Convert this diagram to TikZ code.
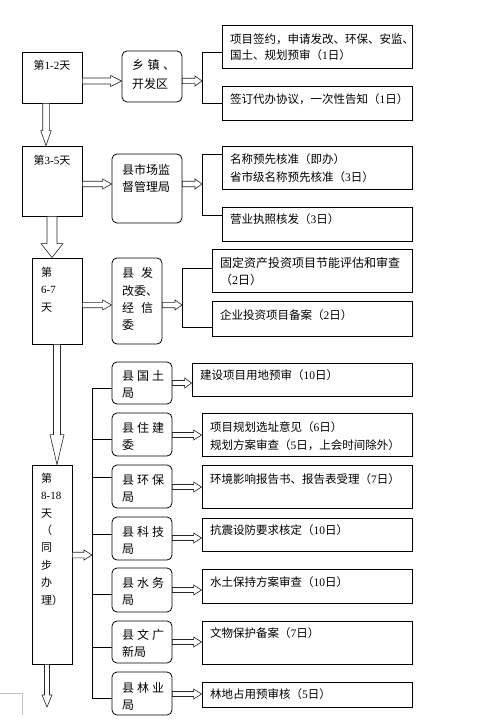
\documentclass[tikz,border=0pt]{standalone}
\usepackage{fontspec}
\setmainfont{Liberation Serif}
\newfontfamily\cjk{Noto Sans CJK SC}
\usetikzlibrary{fit,calc}
\newcommand\dg[1]{{\rmfamily #1}}
% hollow horizontal arrow: from, to, y(px down), shaft half, head half, head length
\newcommand\harrow[6]{\draw[harr] let \p1=(#1), \p2=(#2) in
 (\x1,{-#3pt+#4pt}) -- ({\x2-#6pt},{-#3pt+#4pt}) -- ({\x2-#6pt},{-#3pt+#5pt}) -- (\x2,{-#3pt})
 -- ({\x2-#6pt},{-#3pt-#5pt}) -- ({\x2-#6pt},{-#3pt-#4pt}) -- (\x1,{-#3pt-#4pt}) -- cycle;}
% hollow vertical arrow: from, to, x, shaft half, head half, head length
\newcommand\varrow[6]{\draw[harr] let \p1=(#1), \p2=(#2) in
 ({#3pt-#4pt},\y1) -- ({#3pt-#4pt},{\y2+#6pt}) -- ({#3pt-#5pt},{\y2+#6pt}) -- (#3pt,\y2)
 -- ({#3pt+#5pt},{\y2+#6pt}) -- ({#3pt+#4pt},{\y2+#6pt}) -- ({#3pt+#4pt},\y1) -- cycle;}
\begin{document}
\begin{tikzpicture}[x=1pt,y=-1pt,
  box/.style={draw, line width=0.8pt, inner sep=0pt},
  rbox/.style={box, rounded corners=5pt},
  harr/.style={draw=black!85, fill=white, line width=0.6pt},
  conn/.style={line width=0.8pt},
  lbl/.style={inner sep=0pt, anchor=north west, align=left},
  fday/.style={font=\cjk\fontsize{11}{17.5}\selectfont},
  fag/.style={font=\cjk\fontsize{12}{17}\selectfont},
  fr/.style={font=\cjk\fontsize{11.5}{17}\selectfont}]
\fill[white] (0,0) rectangle (479,722);
\useasboundingbox (0,0) rectangle (479,722);

% ---------- section 1 ----------
\node[box, fit={(22,52)(82,103)}] (d1) {};
\node[rbox, fit={(122,51)(182,102)}] (a1) {};
\node[box, fit={(222,25)(412,68)}] (b1a) {};
\node[box, fit={(222,86)(412,120)}] (b1b) {};
\node[fday, inner sep=0pt] (ld1) at (52,65) {第\dg{1-2}天};
\node[lbl, font=\cjk\fontsize{12}{19}\selectfont] (la1) at (132,59.4) {\makebox[43pt][s]{乡\hfil 镇\hfil 、}\\开发区};
\node[lbl, font=\cjk\fontsize{11.5}{16}\selectfont] (lb1a) at (230,33.6) {项目签约，申请发改、环保、安监、\\国土、规划预审（\dg{1}日）};
\node[lbl, fr] (lb1b) at (230,93.6) {签订代办协议，一次性告知（\dg{1}日）};
\harrow{d1.east}{a1.west}{81}{3}{5.5}{11}
\coordinate (k1) at (202,81);
\coordinate (k1t) at (202,52);
\coordinate (k1b) at (202,103);
\harrow{a1.east}{k1}{81}{2.7}{5}{7}
\draw[conn] (k1t -| b1a.west) -- (k1t) -- (k1b) -- (k1b -| b1b.west);

% ---------- section 2 ----------
\node[box, fit={(22,146)(82,216)}] (d2) {};
\node[rbox, fit={(112,154)(182,223)}] (a2) {};
\node[box, fit={(222,146)(412,189)}] (b2a) {};
\node[box, fit={(222,207)(412,241)}] (b2b) {};
\node[fday, inner sep=0pt] (ld2) at (52,160) {第\dg{3-5}天};
\node[lbl, fag] (la2) at (122,164.4) {县市场监\\督管理局};
\node[lbl, font=\cjk\fontsize{11.5}{18}\selectfont] (lb2a) at (230,153.6) {名称预先核准（即办）\\省市级名称预先核准（\dg{3}日）};
\node[lbl, fr] (lb2b) at (230,213.6) {营业执照核发（\dg{3}日）};
\varrow{d1.south}{d2.north}{46}{3.3}{5.3}{15}
\harrow{d2.east}{a2.west}{184}{2.7}{5}{9}
\coordinate (k2) at (202,184);
\coordinate (k2t) at (202,154);
\coordinate (k2b) at (202,215);
\harrow{a2.east}{k2}{184}{2.7}{5}{7}
\draw[conn] (k2t -| b2a.west) -- (k2t) -- (k2b) -- (k2b -| b2b.west);

% ---------- section 3 ----------
\node[box, fit={(32,258)(82,344)}] (d3) {};
\node[rbox, fit={(112,258)(162,344)}] (a3) {};
\node[box, fit={(212,249)(412,292)}] (b3a) {};
\node[box, fit={(212,301)(412,336)}] (b3b) {};
\node[lbl, fday] (ld3) at (41,266.8) {第\\\dg{6-7}\\天};
\node[lbl, font=\cjk\fontsize{12}{17.3}\selectfont] (la3) at (122,267.4) {\makebox[31pt][s]{县\hfil 发}\\改委、\\\makebox[31pt][s]{经\hfil 信}\\委};
\node[lbl, font=\cjk\fontsize{12}{17}\selectfont] (lb3a) at (220,257.4) {固定资产投资项目节能评估和审查\\（\dg{2}日）};
\node[lbl, fr] (lb3b) at (220,309.6) {企业投资项目备案（\dg{2}日）};
\varrow{d2.south}{d3.north}{52}{5}{11}{14}
\harrow{d3.east}{a3.west}{305}{2.7}{5}{9}
\coordinate (k3) at (182,305);
\coordinate (k3t) at (182,268);
\coordinate (k3b) at (182,327);
\harrow{a3.east}{k3}{305}{2.7}{5}{7}
\draw[conn] (k3t -| b3a.west) -- (k3t) -- (k3b) -- (k3b -| b3b.west);

% ---------- section 4 ----------
\node[box, fit={(32,465)(72,664)}] (d4) {};
\node[lbl, font=\cjk\fontsize{11}{17.4}\selectfont] (ld4) at (41,472.8) {第\\\dg{8-18}\\天\\（\\同\\步\\办\\理）};
\varrow{d3.south}{d4.north}{57}{3.5}{7}{30}

\node[rbox, fit={(112,362)(172,404)}] (g1) {};
\node[rbox, fit={(112,413)(172,456)}] (g2) {};
\node[rbox, fit={(112,465)(172,508)}] (g3) {};
\node[rbox, fit={(112,517)(172,560)}] (g4) {};
\node[rbox, fit={(112,568)(172,612)}] (g5) {};
\node[rbox, fit={(112,621)(172,663)}] (g6) {};
\node[rbox, fit={(112,672)(172,715)}] (g7) {};
\node[lbl, fag] (lg1) at (122,370.4) {\makebox[42pt][s]{县\hfil 国\hfil 土}\\局};
\node[lbl, fag] (lg2) at (122,422.4) {\makebox[42pt][s]{县\hfil 住\hfil 建}\\委};
\node[lbl, fag] (lg3) at (122,474.4) {\makebox[42pt][s]{县\hfil 环\hfil 保}\\局};
\node[lbl, fag] (lg4) at (122,526.4) {\makebox[42pt][s]{县\hfil 科\hfil 技}\\局};
\node[lbl, fag] (lg5) at (122,577.4) {\makebox[42pt][s]{县\hfil 水\hfil 务}\\局};
\node[lbl, fag] (lg6) at (122,629.4) {\makebox[42pt][s]{县\hfil 文\hfil 广}\\新局};
\node[lbl, fag] (lg7) at (122,682.4) {\makebox[42pt][s]{县\hfil 林\hfil 业}\\局};

\node[box, fit={(192,363)(412,396)}] (r1) {};
\node[box, fit={(202,413)(412,456)}] (r2) {};
\node[box, fit={(202,465)(412,508)}] (r3) {};
\node[box, fit={(202,518)(412,551)}] (r4) {};
\node[box, fit={(202,569)(412,603)}] (r5) {};
\node[box, fit={(202,621)(412,664)}] (r6) {};
\node[box, fit={(202,682)(412,707)}] (r7) {};
\node[lbl, fr] (lr1) at (200,369.6) {建设项目用地预审（\dg{10}日）};
\node[lbl, font=\cjk\fontsize{11.5}{18}\selectfont] (lr2) at (210,421.6) {项目规划选址意见（\dg{6}日）\\规划方案审查（\dg{5}日，上会时间除外）};
\node[lbl, fr] (lr3) at (210,473.6) {环境影响报告书、报告表受理（\dg{7}日）};
\node[lbl, fr] (lr4) at (210,524.6) {抗震设防要求核定（\dg{10}日）};
\node[lbl, fr] (lr5) at (210,576.6) {水土保持方案审查（\dg{10}日）};
\node[lbl, fr] (lr6) at (210,627.6) {文物保护备案（\dg{7}日）};
\node[lbl, fr] (lr7) at (210,688.6) {林地占用预审核（\dg{5}日）};

% trunk and branches
\coordinate (jt) at (92,555);
\coordinate (j1) at (92,388);
\coordinate (j2) at (92,439);
\coordinate (j3) at (92,477);
\coordinate (j4) at (92,534);
\coordinate (j5) at (92,594);
\coordinate (j6) at (92,647);
\coordinate (j7) at (92,698);
\harrow{d4.east}{jt}{555}{2.8}{5}{8}
\draw[conn] (j1) -- (j7);
\foreach \i in {1,...,7} {\draw[conn] (j\i) -- (j\i -| g\i.west);}

\harrow{g1.east}{r1.west}{383}{2.5}{5}{7}
\harrow{g2.east}{r2.west}{435}{2.5}{5}{8}
\harrow{g3.east}{r3.west}{487}{2.5}{5}{8}
\harrow{g4.east}{r4.west}{538}{2.5}{5}{8}
\harrow{g5.east}{r5.west}{590}{2.5}{5}{8}
\harrow{g6.east}{r6.west}{642}{2.5}{5}{8}
\harrow{g7.east}{r7.west}{694}{2.5}{5}{8}

\coordinate (endp) at (47,707);
\varrow{d4.south}{endp}{47}{2.5}{5}{12}

% page corner mark
\draw[black!25, line width=0.6pt] (0,693) -- (22.7,693) -- (22.7,715);
\end{tikzpicture}
\end{document}
